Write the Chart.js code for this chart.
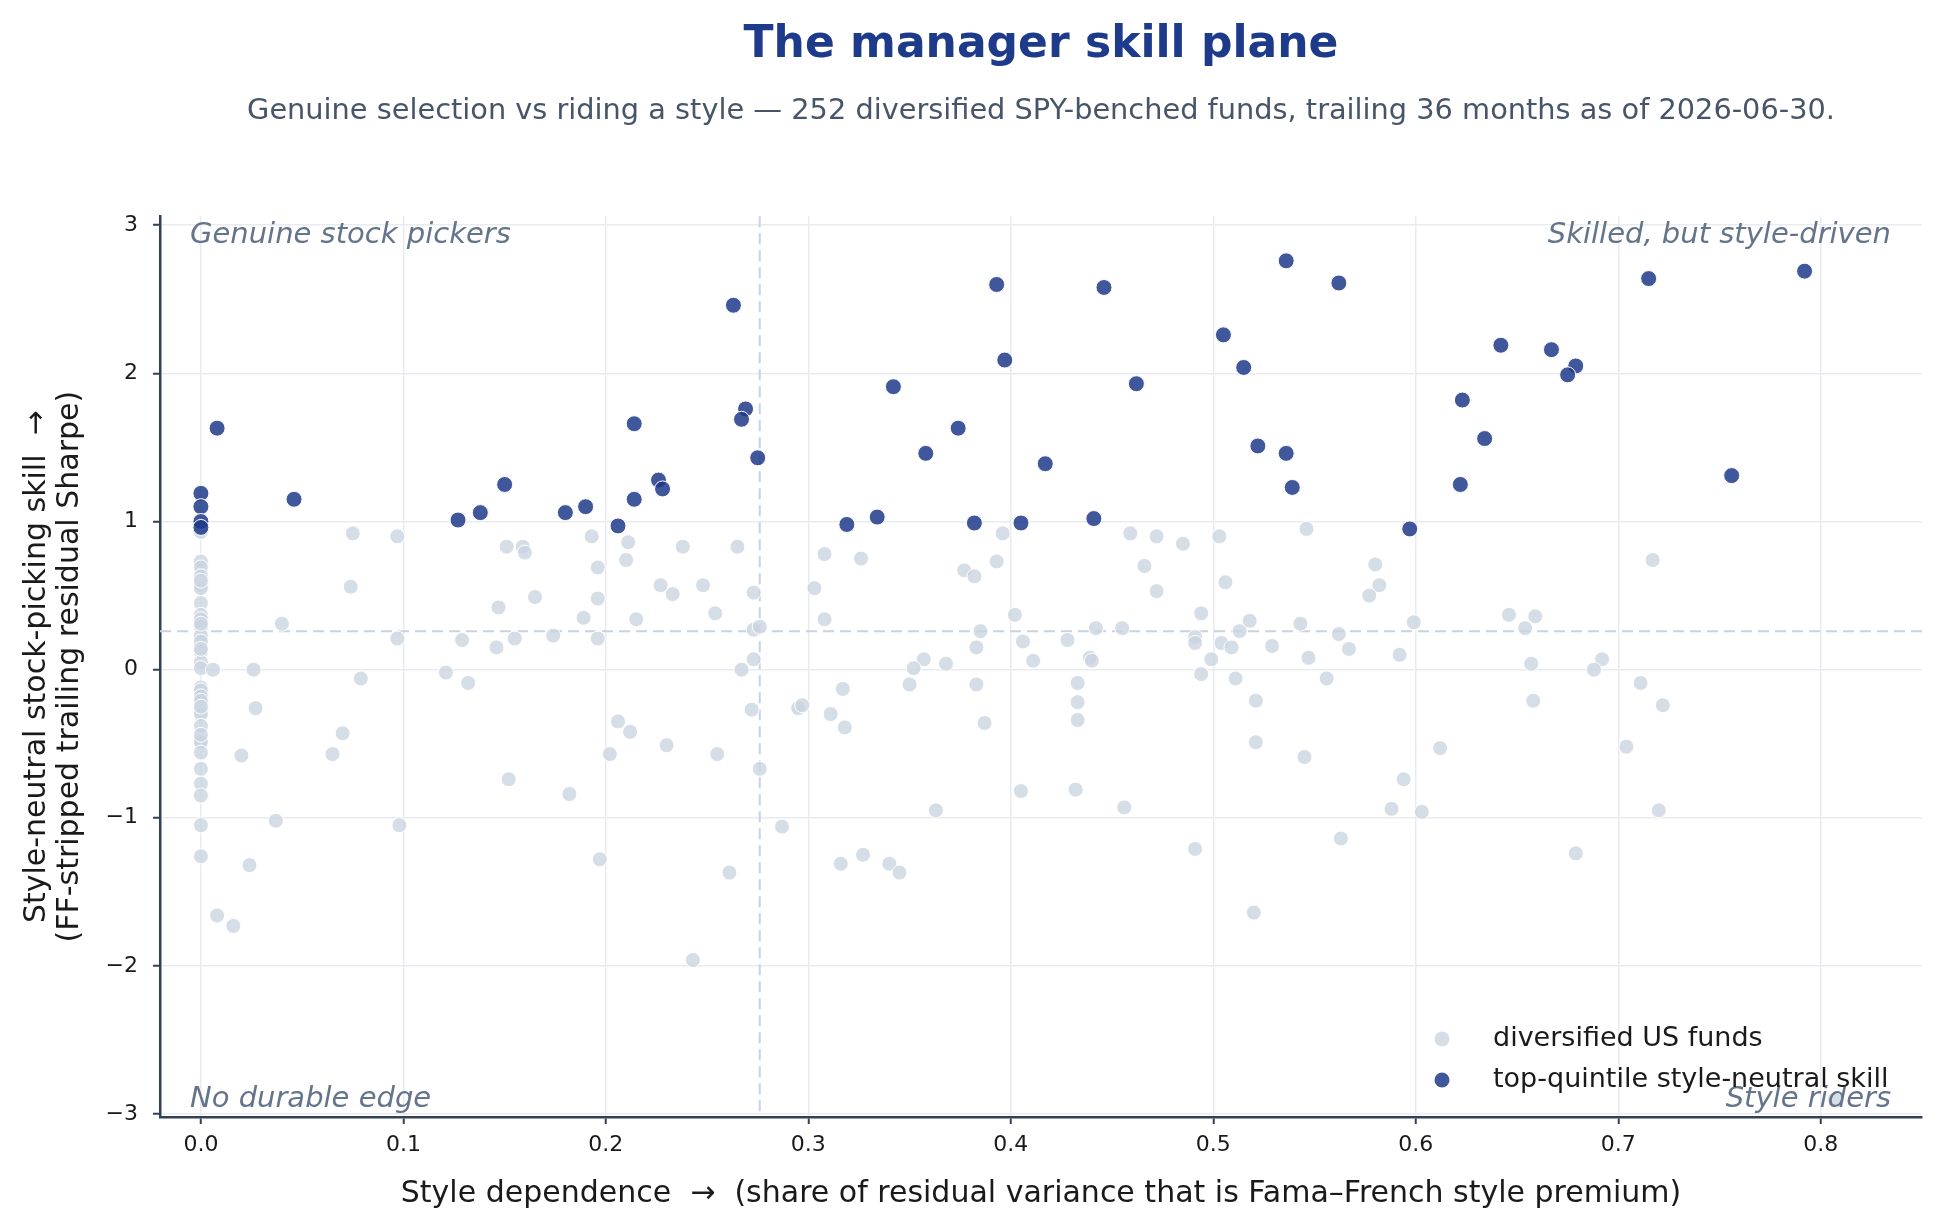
<!DOCTYPE html>
<html>
<head>
<meta charset="utf-8">
<title>The manager skill plane</title>
<script src="https://cdn.jsdelivr.net/npm/chart.js@4.4.1/dist/chart.umd.min.js"></script>
<style>
  html, body { margin: 0; padding: 0; background: #ffffff; }
  #wrap { width: 1944px; height: 1232px; }
</style>
</head>
<body>
<div id="wrap"><canvas id="skillPlane" width="1944" height="1232"></canvas></div>
<script>
const palette = {
  navy: "#1e3a8a",
  navyDot: "rgba(30, 58, 138, 0.85)",
  greyDot: "rgba(203, 213, 225, 0.8)",
  slate: "#475569",
  quadrant: "#64748b",
  spine: "#334155",
  grid: "#e8ebf0",
  refLine: "#c8d2e0",
  ink: "#1a1a1a",
};
const family = "'DejaVu Sans', sans-serif";

// axis ticks
const xTicks = [0, 0.1, 0.2, 0.3, 0.4, 0.5, 0.6, 0.7, 0.8];
const yTicks = [-3, -2, -1, 0, 1, 2, 3];

// thresholds (median style dependence / median skill)
const styleCut = 0.276;
const skillCut = 0.26;

// all diversified funds (light dots)
const fundX = [
  0, 0, 0, 0, 0, 0, 0, 0, 0, 0, 0, 0, 0, 0, 0,
  0, 0, 0, 0, 0, 0, 0, 0, 0, 0, 0, 0, 0, 0, 0,
  0, 0, 0, 0, 0,
  0.075, 0.097, 0.074, 0.040, 0.097, 0.129,
  0.006, 0.026, 0.079, 0.121, 0.132,
  0.027, 0.070, 0.020, 0.065, 0.037, 0.098, 0.024, 0.008, 0.016,
  0.151, 0.159, 0.160, 0.193, 0.211, 0.210, 0.196, 0.238, 0.265, 0.227,
  0.233, 0.248, 0.165, 0.147, 0.196, 0.273, 0.254, 0.189, 0.215, 0.146,
  0.155, 0.174, 0.196, 0.273, 0.276, 0.273, 0.267,
  0.272, 0.276, 0.206, 0.212, 0.202, 0.230, 0.255, 0.152, 0.182, 0.197, 0.261, 0.243,
  0.396, 0.308, 0.326, 0.303, 0.377, 0.382, 0.393, 0.308, 0.402, 0.385,
  0.406, 0.383, 0.428, 0.357, 0.368, 0.352, 0.411,
  0.287, 0.295, 0.297, 0.317, 0.311, 0.318, 0.350, 0.383, 0.387, 0.405,
  0.363, 0.316, 0.327, 0.340, 0.345,
  0.459, 0.472, 0.485, 0.503, 0.546, 0.466, 0.472, 0.506, 0.494, 0.518,
  0.442, 0.455, 0.491, 0.491, 0.513, 0.543, 0.562, 0.504, 0.509, 0.529,
  0.567, 0.547, 0.439, 0.440, 0.499,
  0.494, 0.433, 0.433, 0.433, 0.511, 0.556, 0.521, 0.521, 0.545, 0.432,
  0.456, 0.491, 0.563, 0.520,
  0.717, 0.580, 0.582, 0.577, 0.599, 0.646, 0.659, 0.654, 0.592, 0.657, 0.692, 0.688,
  0.711, 0.722, 0.658, 0.612, 0.704, 0.594, 0.588, 0.603, 0.720, 0.679, 0.807,
];
const fundY = [
  0.93, 0.73, 0.69, 0.63, 0.57, 0.55, 0.45, 0.37, 0.34, 0.29, 0.23, 0.19, 0.12, 0.05, 0.01,
  -0.12, -0.14, -0.18, -0.21, -0.28, -0.30, -0.38, -0.48, -0.49, -0.56, -0.67, -0.77, -0.85, -1.05, -1.26,
  0.60, 0.31, 0.14, -0.25, -0.44,
  0.92, 0.90, 0.56, 0.31, 0.21, 0.20,
  0.00, 0.00, -0.06, -0.02, -0.09,
  -0.26, -0.43, -0.58, -0.57, -1.02, -1.05, -1.32, -1.66, -1.73,
  0.83, 0.83, 0.79, 0.90, 0.86, 0.74, 0.69, 0.83, 0.83, 0.57,
  0.51, 0.57, 0.49, 0.42, 0.48, 0.52, 0.38, 0.35, 0.34, 0.15,
  0.21, 0.23, 0.21, 0.27, 0.29, 0.07, 0.00,
  -0.27, -0.67, -0.35, -0.42, -0.57, -0.51, -0.57, -0.74, -0.84, -1.28, -1.37, -1.96,
  0.92, 0.78, 0.75, 0.55, 0.67, 0.63, 0.73, 0.34, 0.37, 0.26,
  0.19, 0.15, 0.20, 0.07, 0.04, 0.01, 0.06,
  -1.06, -0.26, -0.24, -0.13, -0.30, -0.39, -0.10, -0.10, -0.36, -0.82,
  -0.95, -1.31, -1.25, -1.31, -1.37,
  0.92, 0.90, 0.85, 0.90, 0.95, 0.70, 0.53, 0.59, 0.38, 0.33,
  0.28, 0.28, 0.22, 0.18, 0.26, 0.31, 0.24, 0.18, 0.15, 0.16,
  0.14, 0.08, 0.08, 0.06, 0.07,
  -0.03, -0.09, -0.22, -0.34, -0.06, -0.06, -0.21, -0.49, -0.59, -0.81,
  -0.93, -1.21, -1.14, -1.64,
  0.74, 0.71, 0.57, 0.50, 0.32, 0.37, 0.36, 0.28, 0.10, 0.04, 0.07, 0.00,
  -0.09, -0.24, -0.21, -0.53, -0.52, -0.74, -0.94, -0.96, -0.95, -1.24, -2.90,
];

// top-quintile style-neutral skill (dark dots)
const topX = [
  0, 0, 0, 0, 0.008, 0.046, 0.127, 0.138, 0.150, 0.180,
  0.190, 0.206, 0.214, 0.214, 0.226, 0.228, 0.263, 0.269, 0.267, 0.275,
  0.319, 0.334, 0.342, 0.358, 0.374, 0.382, 0.393, 0.397, 0.405, 0.417,
  0.441, 0.446, 0.462, 0.505, 0.515, 0.522, 0.536, 0.536, 0.539, 0.562,
  0.597, 0.623, 0.622, 0.634, 0.642, 0.667, 0.679, 0.675, 0.715, 0.756, 0.792,
];
const topY = [
  1.19, 1.10, 1.00, 0.96, 1.63, 1.15, 1.01, 1.06, 1.25, 1.06,
  1.10, 0.97, 1.66, 1.15, 1.28, 1.22, 2.46, 1.76, 1.69, 1.43,
  0.98, 1.03, 1.91, 1.46, 1.63, 0.99, 2.60, 2.09, 0.99, 1.39,
  1.02, 2.58, 1.93, 2.26, 2.04, 1.51, 2.76, 1.46, 1.23, 2.61,
  0.95, 1.82, 1.25, 1.56, 2.19, 2.16, 2.05, 1.99, 2.64, 1.31, 2.69,
];

const quadrantLabels = [
  { text: "Genuine stock pickers", corner: "topLeft" },
  { text: "Skilled, but style-driven", corner: "topRight" },
  { text: "No durable edge", corner: "bottomLeft" },
  { text: "Style riders", corner: "bottomRight" },
];

function toPoints(xs, ys) {
  return xs.map((x, i) => ({ x: x, y: ys[i] }));
}

const formatMinus = (v) => (v < 0 ? "\u2212" + Math.abs(v) : String(v));

// median cut lines, quadrant captions and the in-plot legend
const skillPlaneDecor = {
  id: "skillPlaneDecor",
  beforeDatasetsDraw(chart) {
    const { ctx, chartArea, scales } = chart;
    const px = scales.x.getPixelForValue(styleCut);
    const py = scales.y.getPixelForValue(skillCut);
    ctx.save();
    ctx.strokeStyle = palette.refLine;
    ctx.lineWidth = 2;
    ctx.setLineDash([11, 6]);
    ctx.beginPath();
    ctx.moveTo(px, chartArea.top);
    ctx.lineTo(px, chartArea.bottom);
    ctx.moveTo(chartArea.left, py);
    ctx.lineTo(chartArea.right, py);
    ctx.stroke();
    ctx.restore();
  },
  afterDatasetsDraw(chart) {
    const { ctx, chartArea } = chart;
    ctx.save();
    ctx.font = "italic 29px " + family;
    ctx.fillStyle = palette.quadrant;
    ctx.textBaseline = "middle";
    quadrantLabels.forEach((q) => {
      const left = q.corner.endsWith("Left");
      const top = q.corner.startsWith("top");
      ctx.textAlign = left ? "left" : "right";
      const x = left ? chartArea.left + 30 : chartArea.right - 31;
      const y = top ? chartArea.top + 19 : chartArea.bottom - 18;
      ctx.fillText(q.text, x, y);
    });

    // legend, lower right inside the axes
    const items = chart.data.datasets;
    ctx.font = "27px " + family;
    ctx.textAlign = "left";
    items.forEach((ds, i) => {
      const y = 1039 + i * 41;
      ctx.beginPath();
      ctx.arc(1442, y, 7.5, 0, Math.PI * 2);
      ctx.fillStyle = ds.backgroundColor;
      ctx.fill();
      ctx.fillStyle = palette.ink;
      ctx.fillText(ds.label, 1493, y);
    });
    ctx.restore();
  },
};

const tickFont = { family: family, size: 22 };
const axisTitleFont = { family: family, size: 30, lineHeight: 1.12 };

new Chart(document.getElementById("skillPlane"), {
  type: "scatter",
  data: {
    datasets: [
      {
        label: "diversified US funds",
        data: toPoints(fundX, fundY),
        backgroundColor: palette.greyDot,
        borderColor: "#ffffff",
        borderWidth: 1,
        pointRadius: 7.5,
        order: 2,
      },
      {
        label: "top-quintile style-neutral skill",
        data: toPoints(topX, topY),
        backgroundColor: palette.navyDot,
        borderColor: "#ffffff",
        borderWidth: 1,
        pointRadius: 8,
        order: 1,
      },
    ],
  },
  options: {
    responsive: false,
    animation: false,
    devicePixelRatio: 1,
    layout: { padding: { left: 0, right: 22, top: 0, bottom: 0 } },
    plugins: {
      legend: { display: false },
      tooltip: { enabled: false },
      title: {
        display: true,
        fullSize: false,
        text: "The manager skill plane",
        color: palette.navy,
        font: { family: family, size: 44, weight: "bold", lineHeight: 1.2 },
        padding: { top: 19.5, bottom: 0 },
      },
      subtitle: {
        display: true,
        fullSize: false,
        text: "Genuine selection vs riding a style \u2014 252 diversified SPY-benched funds, trailing 36 months as of 2026-06-30.",
        color: palette.slate,
        font: { family: family, size: 28.8, lineHeight: 1.2 },
        padding: { top: 22, bottom: 87.5 },
      },
    },
    scales: {
      x: {
        type: "linear",
        min: -0.0202,
        max: 0.85,
        afterBuildTicks: (scale) => {
          scale.ticks = xTicks.map((v) => ({ value: v }));
        },
        afterFit: (scale) => {
          scale.height = 115;
        },
        ticks: {
          color: palette.ink,
          font: tickFont,
          padding: 8,
          callback: (v) => Number(v).toFixed(1),
        },
        grid: {
          color: palette.grid,
          lineWidth: 1.5,
          tickColor: palette.spine,
          tickLength: 7,
          tickWidth: 2,
        },
        border: { color: palette.spine, width: 2.5 },
        title: {
          display: true,
          text: "Style dependence  \u2192  (share of residual variance that is Fama\u2013French style premium)",
          color: palette.ink,
          font: axisTitleFont,
          padding: { top: 0, bottom: 21 },
        },
      },
      y: {
        type: "linear",
        min: -3.02,
        max: 3.06,
        afterBuildTicks: (scale) => {
          scale.ticks = yTicks.map((v) => ({ value: v }));
        },
        afterFit: (scale) => {
          scale.width = 160;
        },
        ticks: {
          color: palette.ink,
          font: tickFont,
          padding: 15,
          callback: (v) => formatMinus(v),
        },
        grid: {
          color: palette.grid,
          lineWidth: 1.5,
          tickColor: palette.spine,
          tickLength: 7,
          tickWidth: 2,
        },
        border: { color: palette.spine, width: 2.5 },
        title: {
          display: true,
          text: [
            "Style-neutral stock-picking skill  \u2192",
            "(FF-stripped trailing residual Sharpe)",
          ],
          color: palette.ink,
          font: axisTitleFont,
          padding: { top: 20, bottom: 0 },
        },
      },
    },
  },
  plugins: [skillPlaneDecor],
});
</script>
</body>
</html>
